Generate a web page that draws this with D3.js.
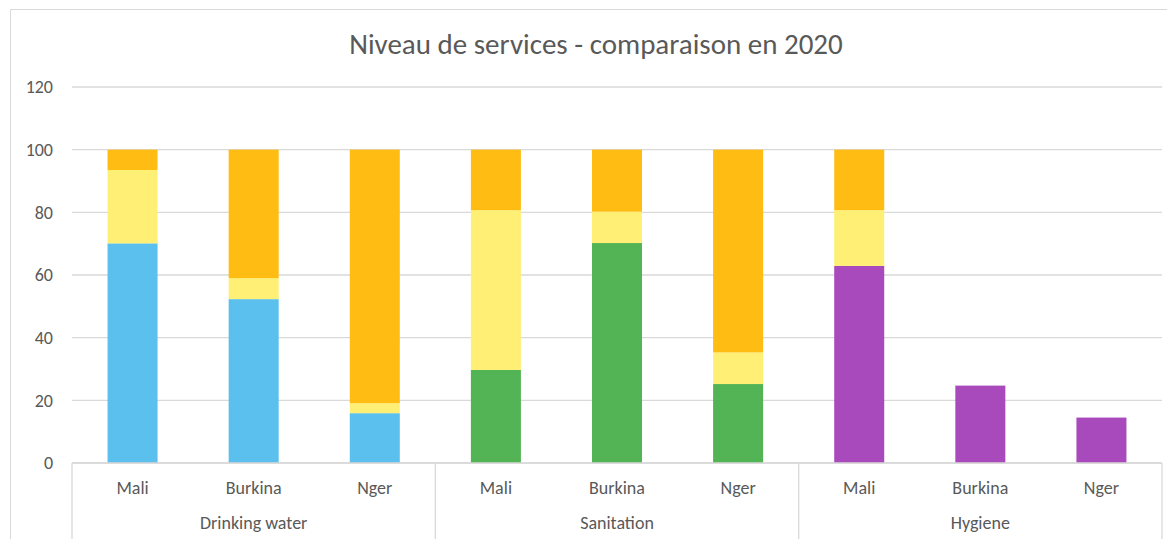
<!DOCTYPE html>
<html>
<head>
<meta charset="utf-8">
<script src="https://cdn.jsdelivr.net/npm/d3@7"></script>
<style>
  html, body { margin: 0; padding: 0; background: #fff; }
  svg { display: block; font-family: Carlito, Lato, "Open Sans", sans-serif; }
</style>
</head>
<body>
<script>
// data
const groups = ["Drinking water", "Sanitation", "Hygiene"]
const countries = ["Mali", "Burkina", "Nger"]
const basic = [
  [70.1, 52.3, 15.9],   // drinking water
  [29.7, 70.2, 25.2],   // sanitation
  [62.9, 24.7, 14.5]    // hygiene
]
const limited = [
  [23.4, 6.7, 3.2],
  [51.0, 10.0, 10.1],
  [17.8, 0, 0]
]
const noService = [
  [6.5, 41.0, 80.9],
  [19.3, 19.8, 64.7],
  [19.3, 0, 0]
]
const yTicks = [0, 20, 40, 60, 80, 100, 120]
const groupColors = ["#5BC0EE", "#52B454", "#A94ABC"]
const yellow = "#FFF075", orange = "#FFBC12"

const W = 1167, H = 539
const margin = {top: 87, right: 5, bottom: 76, left: 72}
const plotRight = 1162

const svg = d3.select("body").append("svg").attr("width", W).attr("height", H)

// chart frame (cut off on the right and bottom)
svg.append("path")
    .attr("d", "M10.5," + H + " V9.5 H" + W)
    .attr("fill", "none").attr("stroke", "#d9d9d9").attr("stroke-width", 1)

svg.append("text")
    .attr("x", 596).attr("y", 54)
    .attr("text-anchor", "middle")
    .attr("fill", "#595959")
    .style("font-size", "29px")
    .text("Niveau de services - comparaison en 2020")

// flatten rows
const rows = []
groups.forEach((g, gi) => countries.forEach((c, ci) => {
  rows.push({key: g + "|" + c, group: g, gi, country: c,
    basic: basic[gi][ci], limited: limited[gi][ci], none: noService[gi][ci]})
}))

const x = d3.scaleBand()
    .domain(rows.map(d => d.key))
    .range([margin.left, plotRight])
    .paddingInner(0.587).paddingOuter(0.2935)

const y = d3.scaleLinear().domain([0, 120]).range([463, 87])

// gridlines
svg.append("g")
    .selectAll("line")
    .data(yTicks)
    .join("line")
    .attr("x1", margin.left).attr("x2", plotRight)
    .attr("y1", d => y(d)).attr("y2", d => y(d))
    .attr("stroke", "#d9d9d9").attr("stroke-width", 1.3)

svg.append("g")
    .selectAll("text")
    .data(yTicks)
    .join("text")
    .attr("x", 53).attr("y", d => y(d))
    .attr("dy", "0.35em")
    .attr("text-anchor", "end")
    .attr("fill", "#595959")
    .style("font-size", "18px")
    .text(d => d)

const stack = d3.stack().keys(["basic", "limited", "none"])
const series = stack(rows)

const colorFor = (key, d) => key === "basic" ? groupColors[d.data.gi] : key === "limited" ? yellow : orange

svg.append("g")
    .selectAll("g")
    .data(series)
    .join("g")
    .each(function(s) {
      d3.select(this).selectAll("rect")
        .data(s.filter(d => d[1] - d[0] > 0))
        .join("rect")
        .attr("x", d => x(d.data.key))
        .attr("width", x.bandwidth())
        .attr("y", d => y(d[1]))
        .attr("height", d => y(d[0]) - y(d[1]))
        .attr("fill", d => colorFor(s.key, d))
    })

// category axis frame
const step = x.step()
const axisG = svg.append("g").attr("stroke", "#d9d9d9").attr("stroke-width", 1.3)
axisG.append("line").attr("x1", margin.left).attr("x2", plotRight).attr("y1", y(0)).attr("y2", y(0))
const seps = d3.range(groups.length + 1).map(i => margin.left + i * 3 * step)
axisG.selectAll(".sep")
    .data(seps)
    .join("line")
    .attr("x1", d => d).attr("x2", d => d)
    .attr("y1", y(0)).attr("y2", H)

svg.append("g")
    .selectAll("text")
    .data(rows)
    .join("text")
    .attr("x", d => x(d.key) + x.bandwidth() / 2)
    .attr("y", 494)
    .attr("text-anchor", "middle")
    .attr("fill", "#595959")
    .style("font-size", "18px")
    .text(d => d.country)

svg.append("g")
    .selectAll("text")
    .data(groups)
    .join("text")
    .attr("x", (d, i) => (seps[i] + seps[i + 1]) / 2)
    .attr("y", 529)
    .attr("text-anchor", "middle")
    .attr("fill", "#595959")
    .style("font-size", "18px")
    .text(d => d)
</script>
</body>
</html>
